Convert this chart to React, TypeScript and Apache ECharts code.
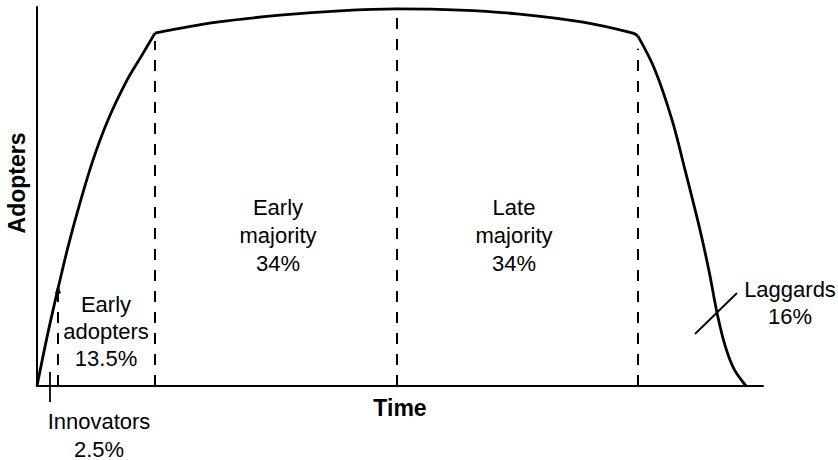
import React, { useEffect, useRef } from "react";
import * as echarts from "echarts";

// Curve (Time 0..100, Adopters 0..100)
const risingTime = [0, 1.38, 2.75, 4.27, 5.92, 7.71, 9.78, 12.4, 14.46, 16.25];
const risingAdopters = [0, 12.9, 24.5, 36.7, 48.3, 59.6, 70.2, 80.7, 87.3, 93.1];
const plateauTime = [16.25, 24.79, 33.88, 41.7, 49.59, 58.26, 66.12, 75.21, 82.09, 82.78];
const plateauAdopters = [93.1, 96.0, 97.9, 99.0, 99.5, 99.2, 98.2, 96.0, 93.1, 92.3];
const fallingTime = [82.78, 85.12, 87.47, 89.26, 91.32, 92.6, 93.7, 94.8, 96.0, 97.66];
const fallingAdopters = [92.3, 83.4, 70.2, 57.0, 41.2, 30.0, 19.0, 10.5, 4.5, 0];

// Category boundaries (dashed lines)
const dividerTime = [2.89, 16.25, 49.59, 82.78];
const dividerTop = [25.6, 91, 99.5, 89];

// Innovators tick and Laggards pointer
const innovatorTickTime = [1.79, 1.79];
const innovatorTickAdopters = [-4.2, 3.7];
const laggardPointerTime = [90.63, 96.42];
const laggardPointerAdopters = [13.72, 24.54];

// Labels
const categoryLabels = [
  "Early\nadopters\n13.5%",
  "Early\nmajority\n34%",
  "Late\nmajority\n34%",
  "Innovators\n2.5%",
  "Laggards\n16%",
];
const xAxisTitle = "Time";
const yAxisTitle = "Adopters";

const zip = (a: number[], b: number[]) => a.map((v, i) => [v, b[i]]);
const FONT = '"Liberation Sans", Arial, Helvetica, sans-serif';

export default function App() {
  const ref = useRef<HTMLDivElement>(null);
  useEffect(() => {
    if (!ref.current) return;
    const chart = echarts.init(ref.current, null, { renderer: "svg" });
    const curveStyle = { color: "#000", width: 2.8 };
    const curveSeries = (pts: number[][]) => ({
      type: "line",
      data: pts,
      smooth: 0.35,
      showSymbol: false,
      symbol: "none",
      lineStyle: curveStyle,
      silent: true,
    });
    const dividerSeries = dividerTime.map((t, i) => ({
      type: "line",
      data:
        i === 0
          ? [
              { value: [t, 0], symbol: "none" },
              { value: [t, dividerTop[i]], symbol: "triangle", symbolSize: [6, 9] },
            ]
          : [[t, 0], [t, dividerTop[i]]],
      symbol: "none",
      showSymbol: i === 0,
      itemStyle: { color: "#000" },
      lineStyle: { color: "#000", width: 2, type: [11, 10] },
      silent: true,
    }));
    const textStyle = (text: string, lh: number) => ({
      text,
      fill: "#000",
      font: `22px ${FONT}`,
      align: "center",
      verticalAlign: "middle",
      lineHeight: lh,
    });
    chart.setOption({
      animation: false,
      backgroundColor: "#fff",
      grid: { left: 37, right: 75, top: 7, bottom: 74 },
      xAxis: {
        type: "value",
        min: 0,
        max: 100,
        axisLine: { show: true, lineStyle: { color: "#000", width: 2 } },
        axisTick: { show: false },
        axisLabel: { show: false },
        splitLine: { show: false },
      },
      yAxis: {
        type: "value",
        min: 0,
        max: 100,
        axisLine: { show: true, lineStyle: { color: "#000", width: 2 } },
        axisTick: { show: false },
        axisLabel: { show: false },
        splitLine: { show: false },
      },
      series: [
        curveSeries(zip(risingTime, risingAdopters)),
        curveSeries(zip(plateauTime, plateauAdopters)),
        curveSeries(zip(fallingTime, fallingAdopters)),
        ...dividerSeries,
        {
          type: "line",
          data: zip(innovatorTickTime, innovatorTickAdopters),
          symbol: "none",
          clip: false,
          lineStyle: { color: "#000", width: 1.8 },
          silent: true,
        },
        {
          type: "line",
          data: zip(laggardPointerTime, laggardPointerAdopters),
          symbol: "none",
          lineStyle: { color: "#000", width: 1.8 },
          silent: true,
        },
      ],
      graphic: [
        { type: "text", x: 106, y: 331, style: textStyle(categoryLabels[0], 27) },
        { type: "text", x: 278, y: 235, style: textStyle(categoryLabels[1], 28) },
        { type: "text", x: 514, y: 235, style: textStyle(categoryLabels[2], 28) },
        { type: "text", x: 99, y: 435, style: textStyle(categoryLabels[3], 28) },
        { type: "text", x: 790, y: 303, style: textStyle(categoryLabels[4], 27) },
        {
          type: "text",
          x: 400,
          y: 408,
          style: {
            text: xAxisTitle,
            fill: "#000",
            font: `bold 23px ${FONT}`,
            align: "center",
            verticalAlign: "middle",
          },
        },
        {
          type: "text",
          x: 17,
          y: 183,
          rotation: Math.PI / 2,
          style: {
            text: yAxisTitle,
            fill: "#000",
            font: `bold 23px ${FONT}`,
            align: "center",
            verticalAlign: "middle",
          },
        },
      ],
    });
    return () => chart.dispose();
  }, []);
  return (
    <div
      ref={ref}
      style={{ position: "absolute", left: 0, top: 0, width: 838, height: 460 }}
    />
  );
}
